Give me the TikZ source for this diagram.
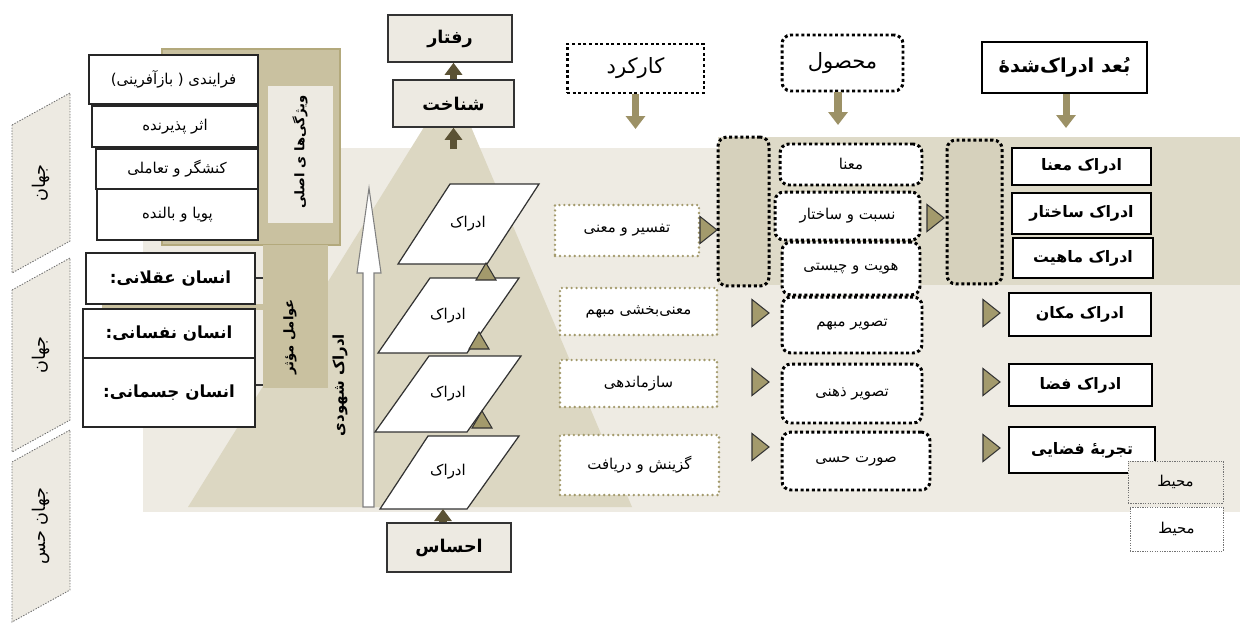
\documentclass[tikz,border=0pt]{standalone}
\usepackage{fontspec}
\newfontfamily\fafont[Script=Arabic]{DejaVu Sans}
\TeXXeTstate=1
\newcommand{\rl}[1]{\beginR #1\endR}
\usetikzlibrary{arrows.meta}
\definecolor{bandlight}{HTML}{EEEBE3}
\definecolor{banddark}{HTML}{DEDAC8}
\definecolor{talldark}{HTML}{D6D1BC}
\definecolor{pyramid}{HTML}{DCD7C2}
\definecolor{tanpanel}{HTML}{C9C1A0}
\definecolor{tanedge}{HTML}{B3A97C}
\definecolor{olivetri}{HTML}{A39A6C}
\definecolor{olivearrow}{HTML}{9C9166}
\definecolor{darkarrow}{HTML}{5B5234}
\definecolor{paper}{HTML}{EDEAE2}
\tikzset{
  whitebox/.style={draw=black!85, fill=white, line width=0.9pt, inner sep=1pt,
    font=\fafont\fontsize{8.5}{10}\selectfont},
  manbox/.style={whitebox, font=\fafont\bfseries\fontsize{9.5}{11}\selectfont},
  paperbox/.style={draw=black!80, fill=paper, line width=0.9pt,
    font=\fafont\bfseries\fontsize{10}{12}\selectfont},
  olivedot/.style={draw=olivetri, fill=white, line width=1.5pt,
    dash pattern=on 0pt off 2.8pt, line cap=round,
    font=\fafont\fontsize{8.5}{10}\selectfont},
  blackdot/.style={draw=black, fill=white, line width=1.7pt,
    dash pattern=on 1.7pt off 1.5pt, rounded corners=5pt,
    font=\fafont\fontsize{8.5}{10}\selectfont},
  headdot/.style={blackdot, font=\fafont\fontsize{12}{14}\selectfont},
  boldbox/.style={draw=black, fill=white, line width=1.6pt,
    font=\fafont\bfseries\fontsize{9}{11}\selectfont},
  thindot/.style={draw=black!55, line width=0.4pt, dash pattern=on 0.7pt off 0.7pt,
    font=\fafont\fontsize{8.5}{10}\selectfont},
  world/.style={draw=black!55, fill=paper, line width=0.5pt, dash pattern=on 0.8pt off 0.8pt},
  sidetext/.style={rotate=90, font=\fafont\bfseries\fontsize{7.5}{9}\selectfont},
  worldtext/.style={rotate=90, font=\fafont\fontsize{10}{12}\selectfont},
  para/.style={draw=black!80, fill=white, line width=0.7pt},
  paratext/.style={font=\fafont\fontsize{8.5}{10}\selectfont},
  tri/.style={fill=olivetri, draw=black!80, line width=0.6pt},
  downarrow/.style={draw=olivearrow, line width=4pt, -{Triangle[width=0.38cm,length=0.26cm]}},
  uparrow/.style={draw=darkarrow, line width=4pt, -{Triangle[width=0.34cm,length=0.24cm]}}
}
\begin{document}
\begin{tikzpicture}[x=0.02cm, y=-0.02cm]
\useasboundingbox (0,0) rectangle (1240,622);

% background bands
\fill[bandlight] (143,148) rectangle (1240,512);
\fill[banddark] (718,137) rectangle (1240,285);
\fill[pyramid] (188,507) -- (452,82) -- (632,507) -- cycle;

% worlds
\filldraw[world] (12,125) -- (70,93) -- (70,241) -- (12,273) -- cycle;
\filldraw[world] (12,290) -- (70,258) -- (70,420) -- (12,452) -- cycle;
\filldraw[world] (12,462) -- (70,430) -- (70,590) -- (12,622) -- cycle;
\node[worldtext] (jahan1) at (41,183) {\rl{جهان}};
\node[worldtext] (jahan2) at (41,355) {\rl{جهان}};
\node[worldtext] (jahan3) at (41,526) {\rl{جهان حس}};

% left panel
\filldraw[fill=tanpanel, draw=tanedge, line width=0.6pt] (162,49) rectangle (340,245);
\fill[paper] (268,86) rectangle (333,223);
\node[sidetext] (vizhegi) at (300,152) {\rl{ویژگی‌ها ی اصلی}};
\fill[tanpanel] (263,245) rectangle (328,388);
\fill[tanpanel] (102,304) rectangle (263,310);
\node[sidetext] (avamel) at (290,337) {\rl{عوامل مؤثر}};
\coordinate (colA) at (263,278);
\coordinate (colJ) at (263,385);

\node[whitebox, minimum width=3.38cm, minimum height=0.98cm] (farayandi) at (173.5,79.5) {\rl{فرایندی ( بازآفرینی)}};
\node[whitebox, minimum width=3.32cm, minimum height=0.82cm] (asar) at (175,126.5) {\rl{اثر پذیرنده}};
\node[whitebox, minimum width=3.24cm, minimum height=0.8cm] (konesh) at (177,169) {\rl{کنشگر و تعاملی}};
\node[whitebox, minimum width=3.22cm, minimum height=1.02cm] (puya) at (177.5,214.5) {\rl{پویا و بالنده}};
\node[manbox, minimum width=3.38cm, minimum height=1.02cm] (aqlani) at (170.5,278.5) {:\rl{انسان عقلانی}};
\node[manbox, minimum width=3.44cm, minimum height=0.98cm] (nafsani) at (169,333.5) {:\rl{انسان نفسانی}};
\node[manbox, minimum width=3.44cm, minimum height=1.38cm] (jesmani) at (169,392.5) {:\rl{انسان جسمانی}};
\draw[black!80, line width=0.8pt] (aqlani.east |- colA) -- (colA);
\draw[black!80, line width=0.8pt] (jesmani.east |- colJ) -- (colJ);

% perception ladder
\filldraw[draw=black!50, fill=white, line width=0.6pt] (363,507) -- (374,507) -- (374,273) -- (381,273) -- (369,188) -- (357,273) -- (363,273) -- cycle;
\node[sidetext, font=\fafont\bfseries\fontsize{8.5}{10}\selectfont] (shohudi) at (340,385) {\rl{ادراک شهودی}};
\filldraw[para] (398,264) -- (487,264) -- (539,184) -- (450,184) -- cycle;
\filldraw[para] (378,353) -- (467,353) -- (519,278) -- (430,278) -- cycle;
\filldraw[para] (375,432) -- (467,432) -- (521,356) -- (429,356) -- cycle;
\filldraw[para] (380,509) -- (467,509) -- (519,436) -- (428,436) -- cycle;
\node[paratext] (idrak1) at (468,224) {\rl{ادراک}};
\node[paratext] (idrak2) at (448,316) {\rl{ادراک}};
\node[paratext] (idrak3) at (448,394) {\rl{ادراک}};
\node[paratext] (idrak4) at (448,472) {\rl{ادراک}};
\foreach \x/\y in {486/280, 479/349, 482/428}
  \filldraw[tri] (\x-10,\y) -- (\x+10,\y) -- (\x,\y-17) -- cycle;

\node[paperbox, minimum width=2.48cm, minimum height=0.94cm] (raftar) at (450,38.5) {\rl{رفتار}};
\node[paperbox, minimum width=2.42cm, minimum height=0.94cm] (shenakht) at (453.5,103.5) {\rl{شناخت}};
\node[paperbox, minimum width=2.48cm, minimum height=0.98cm] (ehsas) at (449,547.5) {\rl{احساس}};
\coordinate (pyrtop) at (453.5,149);
\coordinate (pfour) at (443,509);
\draw[uparrow] (pyrtop) -- (shenakht.south);
\draw[uparrow] (shenakht.north) -- (shenakht.north |- raftar.south);
\draw[uparrow] (ehsas.north -| pfour) -- (pfour);

% function
\node[headdot, rounded corners=0pt, minimum width=2.74cm, minimum height=0.98cm] (karkard) at (635.5,68.5) {\rl{کارکرد}};
\node[olivedot, minimum width=2.88cm, minimum height=1.02cm] (tafsir) at (627,230.5) {\rl{تفسیر و معنی}};
\node[olivedot, minimum width=3.14cm, minimum height=0.94cm] (mabham) at (638.5,311.5) {\rl{معنی‌بخشی مبهم}};
\node[olivedot, minimum width=3.14cm, minimum height=0.94cm] (sazman) at (638.5,383.5) {\rl{سازماندهی}};
\node[olivedot, minimum width=3.18cm, minimum height=1.2cm] (gozinesh) at (639.5,465) {\rl{گزینش و دریافت}};
\coordinate (karkardEnd) at (635.5,129);
\draw[downarrow] (karkard) -- (karkardEnd);

% product
\node[headdot, minimum width=2.42cm, minimum height=1.12cm] (mahsul) at (842.5,63) {\rl{محصول}};
\node[blackdot, fill=talldark, minimum width=1.02cm, minimum height=2.98cm] (tallL) at (743.5,211.5) {};
\node[blackdot, minimum width=2.84cm, minimum height=0.82cm] (mana) at (851,164.5) {\rl{معنا}};
\node[blackdot, minimum width=2.9cm, minimum height=0.96cm] (nesbat) at (847.5,216) {\rl{نسبت و ساختار}};
\node[blackdot, minimum width=2.76cm, minimum height=1.06cm] (hoviat) at (851,268.5) {\rl{هویت و چیستی}};
\node[blackdot, minimum width=2.8cm, minimum height=1.12cm] (tmobham) at (852,325) {\rl{تصویر مبهم}};
\node[blackdot, minimum width=2.8cm, minimum height=1.18cm] (tzehni) at (852,393.5) {\rl{تصویر ذهنی}};
\node[blackdot, minimum width=2.96cm, minimum height=1.16cm] (surat) at (856,461) {\rl{صورت حسی}};
\node[blackdot, fill=talldark, minimum width=1.1cm, minimum height=2.88cm] (tallR) at (974.5,212) {};
\coordinate (mahsulEnd) at (838,125);
\draw[downarrow] (mahsul.south -| mahsulEnd) -- (mahsulEnd);

% perceived dimension
\node[boldbox, minimum width=3.3cm, minimum height=1.02cm, font=\fafont\bfseries\fontsize{11}{13}\selectfont] (bod) at (1064.5,67.5) {\rl{بُعد ادراک‌شدهٔ}};
\node[boldbox, minimum width=2.78cm, minimum height=0.74cm] (edmana) at (1081.5,166.5) {\rl{ادراک معنا}};
\node[boldbox, minimum width=2.78cm, minimum height=0.82cm] (edsakhtar) at (1081.5,213.5) {\rl{ادراک ساختار}};
\node[boldbox, minimum width=2.8cm, minimum height=0.8cm] (edmahiat) at (1083,258) {\rl{ادراک ماهیت}};
\node[boldbox, minimum width=2.84cm, minimum height=0.86cm] (edmakan) at (1080,314.5) {\rl{ادراک مکان}};
\node[boldbox, minimum width=2.86cm, minimum height=0.84cm] (edfaza) at (1080.5,385) {\rl{ادراک فضا}};
\node[boldbox, minimum width=2.92cm, minimum height=0.92cm] (tajrobe) at (1082,450) {\rl{تجربهٔ فضایی}};
\node[thindot, fill=bandlight, minimum width=1.9cm, minimum height=0.84cm] (mohit1) at (1175.5,482) {\rl{محیط}};
\node[thindot, fill=white, minimum width=1.86cm, minimum height=0.88cm] (mohit2) at (1176.5,529) {\rl{محیط}};
\coordinate (bodEnd) at (1066,128);
\draw[downarrow] (bod.south -| bodEnd) -- (bodEnd);

% pointers
\foreach \x/\y in {700/230, 927/218, 752/313, 752/382, 752/447, 983/313, 983/382, 983/448}
  \filldraw[tri] (\x,\y-13.5) -- (\x+17,\y) -- (\x,\y+13.5) -- cycle;
\end{tikzpicture}
\end{document}
